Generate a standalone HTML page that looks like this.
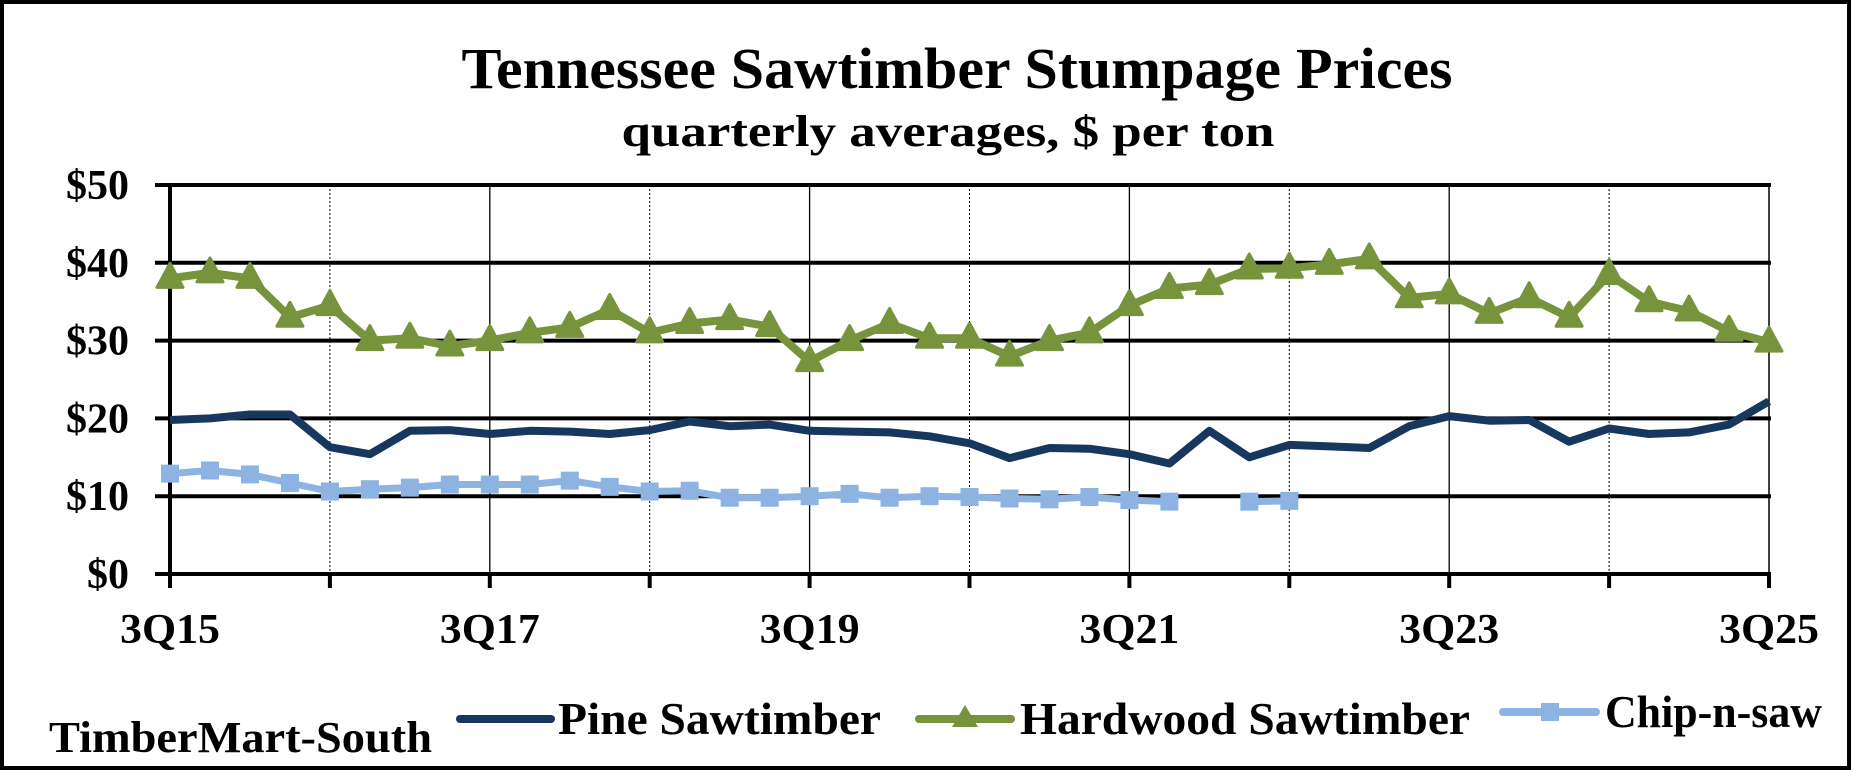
<!DOCTYPE html>
<html><head><meta charset="utf-8"><style>
html,body{margin:0;padding:0;background:#fff}
svg{display:block}
text{font-family:"Liberation Serif",serif;font-weight:bold;fill:#000}
</style></head><body>
<svg id="s" width="1851" height="770" xmlns="http://www.w3.org/2000/svg">
<rect x="2" y="2" width="1847" height="766" fill="#fff" stroke="#000" stroke-width="4"/>
<text x="957" y="88" font-size="58" text-anchor="middle" textLength="991" lengthAdjust="spacingAndGlyphs">Tennessee Sawtimber Stumpage Prices</text>
<text x="948" y="146" font-size="44" text-anchor="middle" textLength="653" lengthAdjust="spacingAndGlyphs">quarterly averages, $ per ton</text>
<g id="g"></g>
<text x="49" y="752" font-size="44" textLength="383" lengthAdjust="spacingAndGlyphs">TimberMart-South</text>
<line x1="460" y1="719" x2="551" y2="719" stroke="#17375e" stroke-width="8" stroke-linecap="round"/>
<text x="558" y="734" font-size="46" textLength="323" lengthAdjust="spacingAndGlyphs">Pine Sawtimber</text>
<line x1="919" y1="719" x2="1011" y2="719" stroke="#77933c" stroke-width="8" stroke-linecap="round"/>
<polygon points="965,705 978,727 952,727" fill="#77933c"/>
<text x="1020" y="734" font-size="46" textLength="450" lengthAdjust="spacingAndGlyphs">Hardwood Sawtimber</text>
<line x1="1503" y1="712" x2="1596" y2="712" stroke="#8db3e2" stroke-width="8" stroke-linecap="round"/>
<rect x="1541" y="703" width="18" height="18" fill="#8db3e2"/>
<text x="1605" y="727" font-size="46" textLength="217" lengthAdjust="spacingAndGlyphs">Chip-n-saw</text>
</svg>
<script>
var g=document.getElementById('g'),o='';
var X0=170,DX=39.975,Y0=574,K=7.78;
function X(i){return X0+i*DX}function Y(v){return Y0-v*K}
for(var i=4;i<=36;i+=4){var x=X(i);
 if(i%8==0)o+='<line x1="'+x+'" y1="185" x2="'+x+'" y2="574" stroke="#000" stroke-width="1.3"/>';
 else o+='<line x1="'+x+'" y1="185" x2="'+x+'" y2="574" stroke="#000" stroke-width="1" stroke-dasharray="2,2"/>';}
for(var i=0;i<=40;i+=4){o+='<line x1="'+X(i)+'" y1="574" x2="'+X(i)+'" y2="588" stroke="#000" stroke-width="4"/>';}
for(var v=0;v<=50;v+=10){var y=Y(v);
 o+='<line x1="155" y1="'+y+'" x2="1771" y2="'+y+'" stroke="#000" stroke-width="4"/>';
 o+='<text x="129" y="'+(y+14)+'" font-size="42" text-anchor="end">$'+v+'</text>';}
o+='<line x1="170" y1="183" x2="170" y2="588" stroke="#000" stroke-width="4"/>';
o+='<line x1="1769" y1="185" x2="1769" y2="574" stroke="#000" stroke-width="1.5"/>';
var labs=['3Q15','3Q17','3Q19','3Q21','3Q23','3Q25'];
for(var k=0;k<6;k++)o+='<text x="'+X(k*8)+'" y="643" font-size="42" text-anchor="middle" textLength="100" lengthAdjust="spacingAndGlyphs">'+labs[k]+'</text>';
var hw=[38,38.7,38,33,34.5,30,30.3,29.3,30,31,31.7,34,31,32.2,32.7,31.8,27.3,30,32.2,30.3,30.3,28,30,31,34.5,36.7,37.2,39.2,39.3,39.8,40.5,35.5,36,33.5,35.5,33,38.5,35,33.8,31.2,29.8];
var pn=[19.8,20,20.5,20.5,16.3,15.4,18.4,18.5,18,18.4,18.3,18,18.5,19.6,19,19.2,18.4,18.3,18.2,17.7,16.8,14.9,16.2,16.1,15.4,14.2,18.4,15,16.6,16.4,16.2,19,20.3,19.7,19.8,17,18.7,18,18.2,19.2,22.2];
var cs=[12.9,13.3,12.8,11.7,10.6,10.9,11.1,11.5,11.5,11.5,12,11.2,10.6,10.7,9.8,9.8,10,10.3,9.8,10,9.9,9.7,9.6,9.9,9.5,9.3];
var cs2=[[27,9.3],[28,9.4]];
function pts(a,off){return a.map(function(v,i){return X(i+(off||0)).toFixed(1)+','+Y(v).toFixed(1)}).join(' ')}
o+='<polyline points="'+pts(cs)+'" fill="none" stroke="#8db3e2" stroke-width="7" stroke-linejoin="round"/>';
o+='<polyline points="'+X(27)+','+Y(9.3)+' '+X(28)+','+Y(9.4)+'" fill="none" stroke="#8db3e2" stroke-width="7"/>';
cs.forEach(function(v,i){o+='<rect x="'+(X(i)-9)+'" y="'+(Y(v)-9)+'" width="18" height="18" fill="#8db3e2"/>'});
cs2.forEach(function(p){o+='<rect x="'+(X(p[0])-9)+'" y="'+(Y(p[1])-9)+'" width="18" height="18" fill="#8db3e2"/>'});
o+='<polyline points="'+pts(pn)+'" fill="none" stroke="#17375e" stroke-width="8" stroke-linejoin="round"/>';
o+='<polyline points="'+pts(hw)+'" fill="none" stroke="#77933c" stroke-width="8" stroke-linejoin="round"/>';
hw.forEach(function(v,i){var x=X(i),y=Y(v);o+='<polygon points="'+x+','+(y-15)+' '+(x+13)+','+(y+9)+' '+(x-13)+','+(y+9)+'" fill="#77933c" stroke="#77933c" stroke-width="3" stroke-linejoin="round"/>'});
g.innerHTML=o;
</script>
</body></html>
